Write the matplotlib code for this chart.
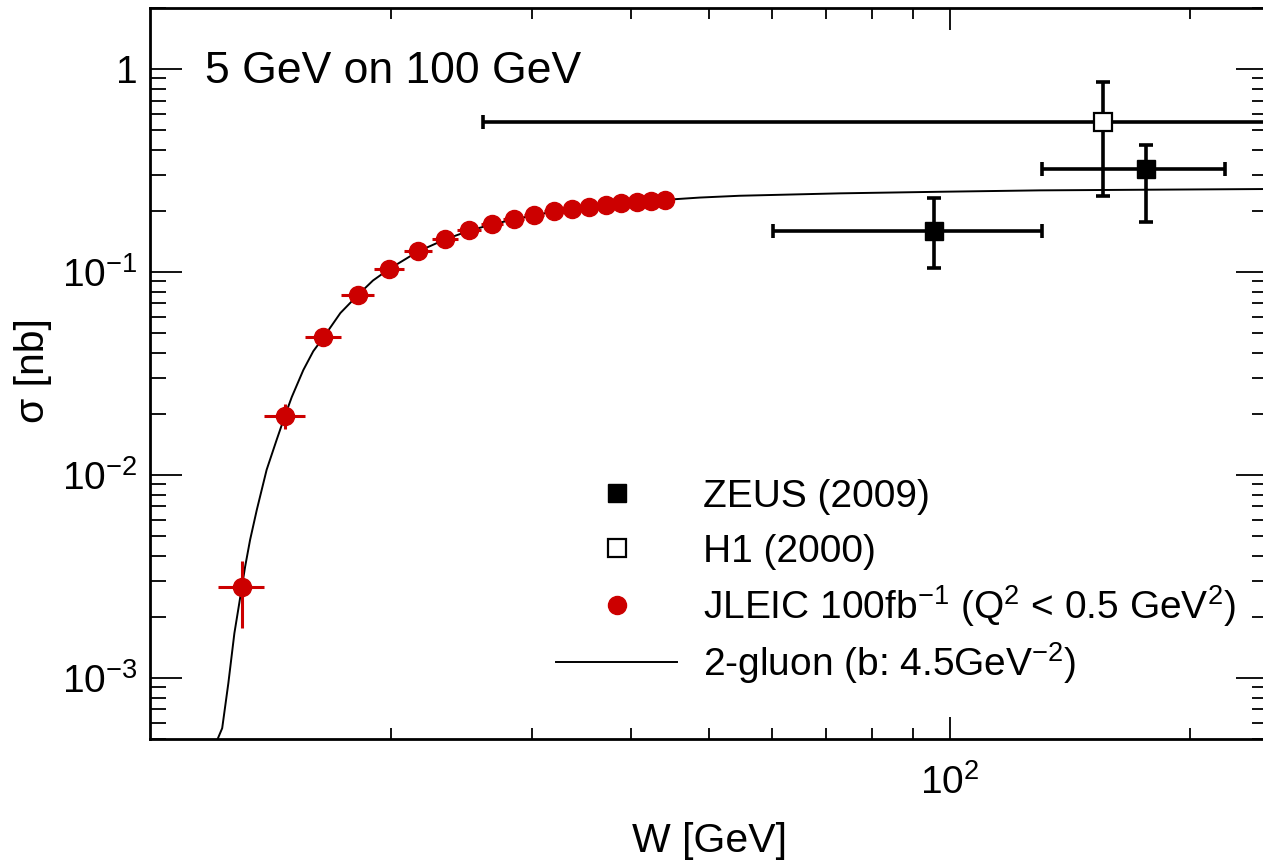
import numpy as np
import matplotlib
matplotlib.use('Agg')
import matplotlib.pyplot as plt
from matplotlib.ticker import LogLocator, NullFormatter

plt.rcParams['font.family'] = ['Liberation Sans', 'DejaVu Sans']
plt.rcParams['mathtext.fontset'] = 'custom'
plt.rcParams['mathtext.rm'] = 'Liberation Sans'
plt.rcParams['mathtext.it'] = 'Liberation Sans:italic'
plt.rcParams['mathtext.bf'] = 'Liberation Sans:bold'

# ---------- data ----------
# ZEUS (2009): W centre, bin edges, sigma and its error band
zeus_w = [95.5, 176.0]
zeus_w_lo = [60.2, 130.6]
zeus_w_hi = [130.6, 221.0]
zeus_sig = [0.160, 0.322]
zeus_sig_lo = [0.105, 0.177]
zeus_sig_hi = [0.231, 0.421]

# H1 (2000)
h1_w = [155.5]
h1_w_lo = [26.1]
h1_w_hi = [285.0]
h1_sig = [0.55]
h1_sig_lo = [0.238]
h1_sig_hi = [0.86]

# JLEIC 100 fb^-1 pseudo data
jleic_w = [13.02, 14.75, 16.47, 18.18, 19.91, 21.63, 23.38, 25.07, 26.78, 28.51,
           30.23, 31.97, 33.70, 35.44, 37.15, 38.86, 40.62, 42.32, 44.05]
jleic_sig = [0.00279, 0.0196, 0.0477, 0.0770, 0.1038, 0.1269, 0.1454, 0.1605, 0.1724, 0.1824,
             0.1915, 0.1991, 0.2050, 0.2098, 0.2146, 0.2180, 0.2205, 0.2238, 0.2271]
jleic_werr = [0.86, 0.86, 0.86, 0.86, 0.86, 0.86, 0.86, 0.86, 0.86, 0.86,
              0.86, 0.86, 0.86, 0.86, 0.86, 0.86, 0.86, 0.86, 0.86]
jleic_sig_dn = [0.00102, 0.0028, 0.0030, 0.0030, 0.0030, 0.0030, 0.0030, 0.0030, 0.0030, 0.0030,
                0.0030, 0.0030, 0.0030, 0.0030, 0.0030, 0.0030, 0.0030, 0.0030, 0.0030]
jleic_sig_up = [0.00097, 0.0027, 0.0030, 0.0030, 0.0030, 0.0030, 0.0030, 0.0030, 0.0030, 0.0030,
                0.0030, 0.0030, 0.0030, 0.0030, 0.0030, 0.0030, 0.0030, 0.0030, 0.0030]

# 2-gluon model curve (b = 4.5 GeV^-2)
model_w = [12.15, 12.31, 12.53, 12.75, 12.93, 13.15, 13.34, 13.60, 13.99, 14.40, 14.75,
           15.04, 15.55, 16.00, 16.47, 17.30, 18.18, 19.00, 19.91, 21.63, 23.38, 25.07,
           26.78, 28.51, 30.23, 31.97, 33.70, 35.44, 37.15, 38.86, 40.62, 42.32, 44.05,
           48.7, 54.6, 72.9, 97.2, 129.6, 250.0]
model_sig = [0.00050, 0.000565, 0.000941, 0.00166, 0.00233, 0.00353, 0.00479, 0.00673,
             0.0106, 0.0149, 0.0196, 0.0242, 0.0329, 0.0407, 0.0475, 0.0628, 0.0768,
             0.0908, 0.1035, 0.1262, 0.1447, 0.1598, 0.1717, 0.1817, 0.1907, 0.1985,
             0.2045, 0.2095, 0.2142, 0.2178, 0.2205, 0.2235, 0.2268, 0.2328, 0.2376,
             0.2442, 0.2486, 0.2526, 0.2565]

legend_labels = [
    'ZEUS (2009)',
    'H1 (2000)',
    r'JLEIC 100fb$^{-1}$ (Q$^{2}$ < 0.5 GeV$^{2}$)',
    r'2-gluon (b: 4.5GeV$^{-2}$)',
]

red = '#cc0000'

fig = plt.figure(figsize=(12.63, 8.64), dpi=100)
ax = fig.add_axes([150 / 1263, 125 / 864, 1118 / 1263, 731 / 864])
ax.set_xscale('log')
ax.set_yscale('log')

# model
ax.plot(model_w, model_sig, color='k', lw=1.4, zorder=2)

# ZEUS
zw = np.array(zeus_w)
zs = np.array(zeus_sig)
ax.errorbar(zw, zs,
            xerr=[zw - np.array(zeus_w_lo), np.array(zeus_w_hi) - zw],
            yerr=[zs - np.array(zeus_sig_lo), np.array(zeus_sig_hi) - zs],
            fmt='s', color='k', ms=13, elinewidth=2.6, capsize=5, capthick=2.6, zorder=4)

# H1
hw = np.array(h1_w)
hs = np.array(h1_sig)
ax.errorbar(hw, hs,
            xerr=[hw - np.array(h1_w_lo), np.array(h1_w_hi) - hw],
            yerr=[hs - np.array(h1_sig_lo), np.array(h1_sig_hi) - hs],
            fmt='none', ecolor='k', elinewidth=2.6, capsize=5, capthick=2.6, zorder=4)
ax.plot(hw, hs, 's', mfc='white', mec='k', mew=1.6, ms=13, zorder=5)

# JLEIC
ax.errorbar(jleic_w, jleic_sig, xerr=jleic_werr, yerr=[jleic_sig_dn, jleic_sig_up],
            fmt='o', color=red, ms=13, elinewidth=2.2, capsize=0, zorder=3)

ax.set_xlim(10, 250)
ax.set_ylim(5e-4, 2)

ax.set_xticks([100], ['$10^{2}$'])
ax.xaxis.set_minor_locator(LogLocator(base=10, subs=np.arange(2, 10)))
ax.xaxis.set_minor_formatter(NullFormatter())
ax.set_yticks([1, 0.1, 0.01, 0.001], ['1', '$10^{-1}$', '$10^{-2}$', '$10^{-3}$'])
ax.yaxis.set_minor_locator(LogLocator(base=10, subs=np.arange(2, 10)))
ax.yaxis.set_minor_formatter(NullFormatter())

ax.tick_params(which='both', direction='in', top=True, right=True, width=1.3, labelsize=28)
ax.tick_params(axis='x', which='major', length=16, pad=18)
ax.tick_params(axis='x', which='minor', length=8)
ax.tick_params(axis='y', which='major', length=23, pad=9)
ax.tick_params(axis='y', which='minor', length=11.5)
for sp in ax.spines.values():
    sp.set_linewidth(2.0)

ax.set_xlabel('W [GeV]', fontsize=29.5)
ax.xaxis.set_label_coords(0.5, -0.114)
fig.text(33 / 1263, 1 - 371 / 864, 'σ [nb]', fontsize=29.5, rotation=90,
         ha='center', va='center')

ax.text(0.0492, 0.898, '5 GeV on 100 GeV', transform=ax.transAxes, fontsize=32,
        ha='left', va='baseline')

# legend, ROOT style: evenly spaced rows
tr = ax.transAxes
row_y = [(739 - y) / 731 for y in (493, 548, 605, 662)]
x_mark = (616.5 - 150) / 1118
x_text = (703 - 150) / 1118
base_off = 14 / 731
ax.plot([x_mark], [row_y[0]], 's', color='k', ms=13, transform=tr, clip_on=False)
ax.plot([x_mark], [row_y[1]], 's', mfc='white', mec='k', mew=1.6, ms=13,
        transform=tr, clip_on=False)
ax.plot([x_mark], [row_y[2]], 'o', color=red, ms=13, transform=tr, clip_on=False)
ax.plot([(556 - 150) / 1118, (677 - 150) / 1118], [row_y[3], row_y[3]], color='k',
        lw=1.4, transform=tr, clip_on=False)
for lab, yy in zip(legend_labels, row_y):
    ax.text(x_text, yy - base_off, lab, transform=tr, fontsize=28,
            ha='left', va='baseline')

fig.savefig('out.png', dpi=100)
